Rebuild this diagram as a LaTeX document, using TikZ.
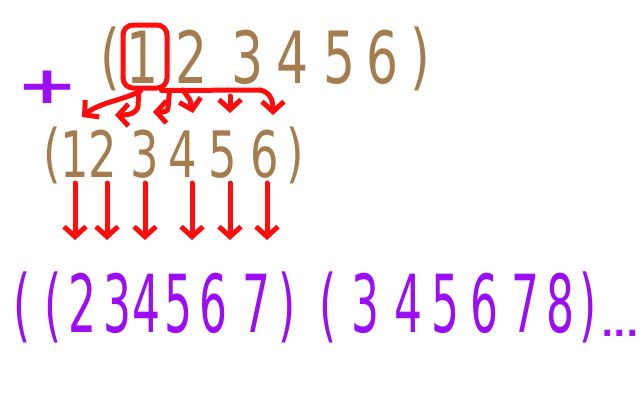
\documentclass[tikz,border=0pt]{standalone}
\usepackage{fontspec}
\setmainfont{DejaVu Sans}
\usetikzlibrary{arrows.meta}
\definecolor{brn}{HTML}{A57C4E}
\definecolor{pur}{HTML}{9B0EF5}
\definecolor{rd}{HTML}{FF0C0C}
\tikzset{
  toprow/.style={text=brn,font=\fontsize{72}{72}\selectfont,inner sep=0pt,anchor=base,xscale=0.7},
  midrow/.style={text=brn,font=\fontsize{64}{64}\selectfont,inner sep=0pt,anchor=base,xscale=0.7},
  botrow/.style={text=pur,font=\fontsize{80}{80}\selectfont,inner sep=0pt,anchor=base,xscale=0.55},
  redline/.style={draw=rd,line width=5pt,line cap=round,line join=round},
  redarrow/.style={redline,-{Straight Barb[length=10pt,width=22pt]}},
  plussign/.style={text=pur,font=\bfseries\fontsize{74}{74}\selectfont,inner sep=0pt,yscale=0.7},
  dots/.style={text=pur,font=\bfseries\fontsize{33}{33}\selectfont,inner sep=0pt,anchor=base}
}
\begin{document}
\begin{tikzpicture}[x=1pt,y=-1pt]
\useasboundingbox (0,0) rectangle (640,400);
\fill[white] (0,0) rectangle (640,400);
% plus
\node[plussign] (plus) at (48,87) {+};
% top row
\node[toprow] (tl) at (110,81) {(};
\foreach \c/\x in {1/143,2/192,3/248,4/293,5/340,6/383}
  \node[toprow] (t\c) at (\x,83) {\c};
\node[toprow] (tr) at (420,81) {)};
% middle row
\node[midrow] (ml) at (52,175) {(};
\foreach \c/\x in {1/75,2/103,3/145,4/183,5/223,6/265}
  \node[midrow] (m\c) at (\x,177) {\c};
\node[midrow] (mr) at (295,175) {)};
% bottom row
\node[botrow] (pl0) at (22,332) {(};
\node[botrow] (pl1) at (53,332) {(};
\foreach \c/\x in {2/82,3/117,4/146,5/178,6/213,7/256}
  \node[botrow] (pa\c) at (\x,332) {\c};
\node[botrow] (pr1) at (287,332) {)};
\node[botrow] (pl2) at (328,332) {(};
\foreach \c/\x in {3/365,4/408,5/445,6/484,7/525,8/560}
  \node[botrow] (pb\c) at (\x,332) {\c};
\node[botrow] (pr2) at (588,332) {)};
\node[dots] (dd) at (620,336) {...};
% red box around the first 1
\node[draw=rd,line width=5pt,rounded corners=10pt,minimum width=44pt,minimum height=63pt,inner sep=0pt] (box) at (145,56.5) {};
% branching arrows
\coordinate (a1) at (82,117);
\coordinate (a2) at (115,115);
\coordinate (a3) at (153,112);
\coordinate (a4) at (193,113);
\coordinate (a5) at (230,113);
\coordinate (a6) at (273,115);
\coordinate (hb) at (260,90);
\draw[redarrow] ([xshift=-4pt]box.south) .. controls (125,100) and (100,102) .. (a1);
\draw[redarrow] ([xshift=-6pt]box.south) -- (138,106) .. controls (137,113) and (130,115) .. (a2);
\draw[redarrow] (box.south east) -- (168,108) .. controls (168,112) and (163,112) .. (a3);
\draw[redline] ([xshift=-8pt]box.south east) -- (hb);
\draw[redarrow] (183,90) -- (190,100) -- (a4);
\draw[redarrow] (230,96) -- (a5);
\draw[redarrow] (hb) .. controls (270,92) and (273,100) .. (a6);
% down arrows
\foreach \x [count=\i] in {75,107,145,192,230,267}{
  \coordinate (ds\i) at (\x,183);
  \coordinate (de\i) at (\x,240);
  \draw[redarrow] (ds\i) -- (de\i);
}
\end{tikzpicture}
\end{document}
